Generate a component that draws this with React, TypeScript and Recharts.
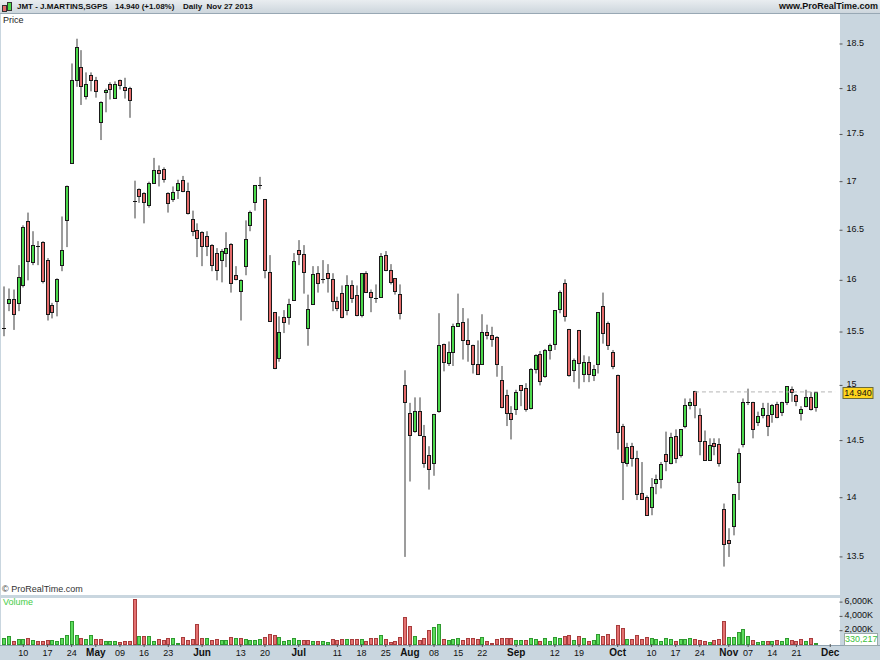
import React from 'react';
import { ComposedChart, BarChart, Bar, XAxis, YAxis, ReferenceLine } from 'recharts';

// ---------- DATA (daily candles, J.MARTINS,SGPS, Apr 4 - Nov 27 2013) ----------
const openP = [
  15.54, 15.78, 15.82, 15.78, 15.95, 16.59, 16.18, 16.34, 16.38, 16.20,
  15.76, 15.80, 16.15, 16.60, 17.20, 18.10, 18.24, 17.92, 18.15, 18.10,
  17.63, 17.96, 18.05, 17.90, 18.09, 18.02, 18.01, 16.80, 16.92, 16.88,
  16.76, 16.99, 17.12, 17.13, 16.88, 16.82, 16.91, 17.02, 16.90, 16.61,
  16.50, 16.48, 16.44, 16.35, 16.27, 16.20, 16.27, 16.36, 16.05, 15.90,
  16.14, 16.55, 16.79, 16.97, 16.82, 16.08, 15.69, 15.25, 15.64, 15.64,
  15.81, 16.30, 16.26, 15.54, 15.77, 16.07, 16.01, 16.07, 16.01, 15.80,
  15.88, 15.71, 15.95, 15.86, 15.66, 16.07, 15.89, 15.83, 15.84, 16.25,
  16.10, 16.02, 15.87, 15.00, 14.75, 14.59, 14.77, 14.54, 14.37, 14.30,
  14.77, 15.39, 15.21, 15.31, 15.56, 15.60, 15.42, 15.38, 15.20, 15.20,
  15.50, 15.47, 15.45, 15.05, 14.91, 14.75, 14.78, 15.00, 14.98, 14.79,
  15.15, 15.29, 15.09, 15.33, 15.39, 15.72, 15.97, 15.53, 15.14, 15.52,
  15.11, 15.22, 15.10, 15.20, 15.75, 15.59, 15.31, 15.10, 14.63, 14.30,
  14.45, 14.35, 14.04, 14.01, 13.92, 14.13, 14.16, 14.38, 14.30, 14.54,
  14.37, 14.63, 14.82, 14.95, 14.73, 14.50, 14.33, 14.48, 14.47, 13.90,
  13.64, 13.76, 14.14, 14.47, 14.85, 14.85, 14.67, 14.73, 14.73, 14.74,
  14.83, 14.76, 14.85, 14.97, 14.91, 14.75, 14.81, 14.89, 14.80,
];
const highP = [
  15.94, 15.92, 15.91, 16.15, 16.55, 16.68, 16.49, 16.39, 16.39, 16.22,
  15.78, 16.02, 16.64, 16.96, 18.28, 18.56, 18.43, 18.18, 18.18, 18.13,
  17.86, 18.00, 18.07, 18.08, 18.10, 18.12, 18.02, 17.01, 16.93, 16.89,
  17.00, 17.25, 17.17, 17.15, 16.89, 16.95, 17.02, 17.06, 16.99, 16.70,
  16.57, 16.49, 16.49, 16.36, 16.32, 16.31, 16.48, 16.37, 16.14, 16.01,
  16.60, 16.70, 16.96, 17.05, 16.82, 16.25, 15.69, 15.65, 15.71, 15.82,
  16.27, 16.40, 16.35, 15.86, 16.14, 16.14, 16.20, 16.16, 16.07, 15.84,
  15.95, 16.05, 16.00, 15.95, 16.07, 16.09, 15.91, 15.96, 16.27, 16.29,
  16.16, 16.02, 15.96, 15.14, 14.84, 14.89, 14.89, 14.64, 14.45, 14.74,
  15.68, 15.39, 15.41, 15.58, 15.87, 15.73, 15.63, 15.38, 15.42, 15.67,
  15.57, 15.55, 15.46, 15.18, 14.96, 14.81, 14.96, 15.00, 15.02, 15.16,
  15.29, 15.32, 15.34, 15.39, 15.71, 15.90, 16.01, 15.53, 15.25, 15.52,
  15.28, 15.27, 15.19, 15.69, 15.88, 15.60, 15.33, 15.10, 14.65, 14.48,
  14.48, 14.41, 14.31, 14.02, 14.17, 14.20, 14.31, 14.58, 14.57, 14.60,
  14.60, 14.88, 14.88, 14.95, 14.79, 14.59, 14.52, 14.52, 14.52, 13.95,
  13.74, 14.03, 14.43, 14.88, 14.97, 14.85, 14.76, 14.84, 14.84, 14.83,
  14.85, 14.85, 14.99, 14.99, 14.92, 14.81, 14.96, 14.94, 14.94,
];
const lowP = [
  15.46, 15.70, 15.52, 15.70, 15.93, 16.00, 16.15, 16.15, 15.97, 15.61,
  15.63, 15.65, 16.09, 16.33, 17.19, 18.02, 17.82, 17.88, 17.97, 17.90,
  17.44, 17.74, 17.88, 17.89, 17.99, 17.89, 17.68, 16.62, 16.78, 16.57,
  16.73, 16.98, 16.95, 16.99, 16.68, 16.79, 16.82, 16.89, 16.66, 16.44,
  16.23, 16.14, 16.24, 16.09, 16.00, 15.98, 16.13, 15.88, 16.00, 15.61,
  16.05, 16.49, 16.70, 16.92, 16.02, 15.60, 15.15, 15.22, 15.49, 15.57,
  15.80, 16.15, 15.87, 15.37, 15.76, 15.88, 15.97, 15.88, 15.70, 15.70,
  15.63, 15.66, 15.78, 15.65, 15.64, 15.88, 15.69, 15.78, 15.83, 16.09,
  15.96, 15.86, 15.62, 13.50, 14.14, 14.57, 14.54, 14.26, 14.07, 14.19,
  14.75, 15.13, 15.18, 15.18, 15.55, 15.24, 15.22, 15.11, 15.11, 15.19,
  15.43, 15.36, 15.08, 14.79, 14.63, 14.51, 14.73, 14.81, 14.76, 14.78,
  15.11, 15.00, 15.07, 15.24, 15.33, 15.68, 15.60, 15.08, 15.03, 14.97,
  15.03, 15.03, 15.04, 15.11, 15.39, 15.33, 15.15, 14.42, 13.98, 14.27,
  14.27, 13.98, 13.98, 13.85, 13.85, 14.03, 14.08, 14.23, 14.29, 14.30,
  14.35, 14.61, 14.78, 14.70, 14.37, 14.32, 14.32, 14.37, 14.27, 13.42,
  13.50, 13.68, 13.98, 14.44, 14.82, 14.52, 14.63, 14.70, 14.54, 14.66,
  14.70, 14.72, 14.82, 14.85, 14.81, 14.68, 14.80, 14.77, 14.76,
];
const closeP = [
  15.54, 15.82, 15.67, 16.03, 16.53, 16.19, 16.35, 16.34, 15.99, 15.67,
  15.69, 16.01, 16.30, 16.95, 18.10, 18.47, 18.03, 18.05, 18.09, 17.97,
  17.85, 17.99, 18.00, 18.05, 18.04, 17.98, 17.87, 16.80, 16.85, 16.79,
  16.99, 17.12, 17.09, 17.03, 16.78, 16.89, 16.99, 16.90, 16.68, 16.49,
  16.42, 16.34, 16.34, 16.15, 16.10, 16.29, 16.32, 15.97, 16.01, 16.00,
  16.41, 16.69, 16.96, 16.97, 16.10, 15.61, 15.16, 15.50, 15.60, 15.77,
  16.19, 16.26, 16.08, 15.72, 16.06, 15.97, 16.01, 16.02, 15.80, 15.73,
  15.64, 15.95, 15.83, 15.66, 16.07, 15.89, 15.84, 15.83, 16.24, 16.10,
  15.98, 15.90, 15.68, 14.85, 14.55, 14.77, 14.55, 14.30, 14.25, 14.74,
  15.38, 15.22, 15.31, 15.56, 15.59, 15.42, 15.39, 15.20, 15.11, 15.50,
  15.47, 15.43, 15.20, 14.80, 14.75, 14.69, 14.94, 14.96, 14.78, 15.15,
  15.28, 15.04, 15.33, 15.38, 15.71, 15.89, 15.65, 15.10, 15.24, 15.21,
  15.22, 15.11, 15.15, 15.69, 15.49, 15.38, 15.18, 14.58, 14.31, 14.44,
  14.35, 14.03, 13.99, 13.85, 14.09, 14.16, 14.29, 14.32, 14.53, 14.35,
  14.60, 14.82, 14.85, 14.82, 14.50, 14.33, 14.46, 14.45, 14.30, 13.61,
  13.62, 14.03, 14.39, 14.85, 14.85, 14.60, 14.72, 14.79, 14.63, 14.82,
  14.71, 14.85, 14.99, 14.94, 14.86, 14.78, 14.89, 14.78, 14.94,
];
// volume in thousands of shares
const volumeK = [
  930, 1300, 560, 885, 885, 1025, 745, 510, 560, 650,
  745, 560, 980, 1400, 3355, 1400, 1025, 840, 1400, 790,
  790, 560, 605, 560, 420, 510, 510, 6380, 1300, 1300,
  1300, 560, 790, 650, 930, 930, 230, 1070, 650, 840,
  2935, 1025, 930, 650, 790, 745, 745, 1120, 930, 1025,
  885, 700, 700, 790, 1120, 1490, 1350, 1120, 605, 745,
  1025, 700, 745, 745, 510, 510, 560, 370, 790, 650,
  790, 790, 790, 790, 790, 560, 930, 930, 1400, 790,
  370, 510, 1165, 3870, 2610, 1300, 700, 930, 2145, 2520,
  2935, 885, 650, 885, 1025, 745, 930, 930, 840, 1165,
  560, 325, 885, 930, 930, 930, 650, 745, 650, 1025,
  790, 560, 930, 560, 1165, 980, 1260, 1350, 650, 1260,
  1025, 560, 650, 1585, 1260, 1540, 790, 2800, 2425, 840,
  885, 1350, 885, 1165, 930, 885, 510, 930, 790, 560,
  840, 840, 980, 790, 650, 605, 465, 700, 790, 3355,
  1165, 1070, 1770, 2190, 1300, 650, 370, 510, 510, 560,
  745, 560, 980, 650, 510, 790, 560, 930, 330.217,
];
const xTickIdx = [4, 9, 14, 19, 24, 29, 34, 41, 49, 54, 61, 69, 74, 79, 84, 89, 94, 99, 106, 114, 119, 127, 134, 139, 144, 150, 154, 159, 164, 171];
const xTickLabels = ['10', '17', '24', 'May', '09', '16', '23', 'Jun', '13', '20', 'Jul', '11', '18', '25', 'Aug', '08', '15', '22', 'Sep', '12', '19', 'Oct', '10', '17', '24', 'Nov', '07', '14', '21', 'Dec'];
const priceTicks = [13.5, 14, 14.5, 15, 15.5, 16, 16.5, 17, 17.5, 18, 18.5];
const volTicks = [2000, 4000, 6000];
const lastPrice = 14.94;
const lastVolumeText = '330,217';
const lastLineStartIdx = 143;
const futureSlots = 4;

// ---------- LAYOUT ----------
const FONT = '"Liberation Sans", Arial, Helvetica, sans-serif';
const BG = '#c9d6df';
const PRICE_TOP = 13;
const PRICE_H = 583;
const PRICE_DOMAIN: [number, number] = [Math.log(13.1797), Math.log(18.8556)];
const VOL_DOMAIN: [number, number] = [0, 6573];
const AXIS_W = 42.5;
const LEFT = 1.584;
const VOL_SVG_TOP = 588;
const VOL_MARGIN_TOP = 10;

const N = closeP.length;
const rows = Array.from({ length: N + futureSlots }, (_, i) => {
  if (i >= N) return { i };
  return {
    i,
    o: openP[i],
    h: highP[i],
    l: lowP[i],
    c: closeP[i],
    range: [Math.log(lowP[i]), Math.log(highP[i])],
    v: volumeK[i],
    up: i === 0 ? closeP[i] >= openP[i] : closeP[i] >= closeP[i - 1],
  };
});

const GREEN = '#4cd94c';
const RED = '#e46a6a';

function CandleShape(props: any) {
  const { x, y, width, height, payload } = props;
  if (!payload || payload.o == null) return null;
  const top = Math.min(y, y + height);
  const hpx = Math.abs(height);
  const lh = Math.log(payload.h);
  const ll = Math.log(payload.l);
  const span = lh - ll || 1;
  const py = (p: number) => top + ((lh - Math.log(p)) / span) * hpx;
  const k = Math.round(x + width / 2);
  const bodyTop = Math.round(py(Math.max(payload.o, payload.c)));
  const bodyBot = Math.round(py(Math.min(payload.o, payload.c)));
  const isDoji = payload.o === payload.c;
  const fill = payload.c > payload.o ? GREEN : RED;
  return (
    <g>
      <line x1={k} x2={k} y1={top} y2={top + hpx} stroke="#3a3a3a" strokeWidth={1} />
      {isDoji ? (
        <line x1={k - 2} x2={k + 2} y1={bodyTop + 0.5} y2={bodyTop + 0.5} stroke="#111" strokeWidth={1} />
      ) : (
        <rect x={k - 1.5} y={bodyTop + 0.5} width={3} height={Math.max(1, bodyBot - bodyTop)} fill={fill} stroke="#1a1a1a" strokeWidth={1} />
      )}
    </g>
  );
}

function VolumeShape(props: any) {
  const { x, y, width, height, payload } = props;
  if (!payload || payload.v == null) return null;
  const k = Math.round(x + width / 2);
  const top = Math.round(Math.min(y, y + height));
  const bot = Math.round(Math.max(y, y + height));
  const up = payload.up;
  return (
    <rect
      x={k - 1.5}
      y={top + 0.5}
      width={3}
      height={Math.max(1, bot - top - 1)}
      fill={up ? '#5bdc5b' : '#e37070'}
      stroke={up ? '#2f9a2f' : '#a83c3c'}
      strokeWidth={1}
    />
  );
}

function XTick(props: any) {
  const { x, y, payload } = props;
  const k = xTickIdx.indexOf(payload.value);
  if (k < 0) return null;
  const label = xTickLabels[k];
  const bold = /^[A-Z]/.test(label);
  return (
    <g>
      <line x1={x} x2={x} y1={y - 1} y2={y + 2} stroke="#555" />
      <text x={x} y={y + 11} textAnchor="middle" fontSize={bold ? 10 : 9} fontWeight={bold ? 700 : 400} fill="#111" fontFamily={FONT}>
        {label}
      </text>
    </g>
  );
}

function PriceTick(props: any) {
  const { x, y, payload } = props;
  const label = String(Number(Math.exp(payload.value).toFixed(1)));
  return (
    <g>
      <line x1={x - 6} x2={x - 3} y1={y} y2={y} stroke="#555" />
      <text x={x + 1} y={y + 2} fontSize={9} fill="#111" fontFamily={FONT}>
        {label}
      </text>
    </g>
  );
}

function VolTick(props: any) {
  const { x, y, payload } = props;
  return (
    <g>
      <line x1={x - 6} x2={x - 3} y1={y} y2={y} stroke="#555" />
      <text x={x - 1} y={y + 1.5} fontSize={9} fill="#111" fontFamily={FONT}>
        {payload.value.toLocaleString('en-US') + 'K'}
      </text>
    </g>
  );
}

function LastPriceLabel(props: any) {
  const { viewBox } = props;
  if (!viewBox) return null;
  const yy = Math.round(viewBox.y);
  const x0 = viewBox.x + viewBox.width + 5;
  return (
    <g>
      <rect x={x0 + 0.5} y={yy - 4.5} width={30} height={11} fill="#ffd51c" stroke="#6b6b3a" />
      <text x={x0 + 15.5} y={yy + 4} textAnchor="middle" fontSize={9} fill="#111" fontFamily={FONT}>
        {lastPrice.toFixed(3)}
      </text>
    </g>
  );
}

const headText: React.CSSProperties = {
  position: 'absolute',
  top: 1,
  fontSize: 8,
  fontWeight: 700,
  color: '#111',
  whiteSpace: 'pre',
  lineHeight: '11px',
};

export default function App() {
  const lnLast = Math.log(lastPrice);
  return (
    <div style={{ position: 'absolute', left: 0, top: 0, width: 880, height: 660, background: BG, overflow: 'hidden', fontFamily: FONT }}>
      {/* header */}
      <div style={{ position: 'absolute', left: 0, top: 0, width: 880, height: 13, background: 'linear-gradient(#e9edf0, #cdd6dd)', borderBottom: '1px solid #98a8b4' }} />
      <div style={{ position: 'absolute', left: 2, top: 5, width: 3, height: 5, background: RED, border: '1px solid #333' }} />
      <div style={{ position: 'absolute', left: 7, top: 2, width: 3, height: 7, background: GREEN, border: '1px solid #333' }} />
      <div style={{ ...headText, left: 17 }}>JMT - J.MARTINS,SGPS</div>
      <div style={{ ...headText, left: 115 }}>14.940 (+1.08%)</div>
      <div style={{ ...headText, left: 183 }}>{'Daily  Nov 27 2013'}</div>
      <div style={{ ...headText, left: undefined, right: 2, fontSize: 9 }}>www.ProRealTime.com</div>

      {/* panels */}
      <div style={{ position: 'absolute', left: 1, top: 14, width: 839, height: 581, background: '#fff' }} />
      <div style={{ position: 'absolute', left: 1, top: 598, width: 839, height: 47, background: '#fff' }} />
      <div style={{ position: 'absolute', left: 0, top: 645, width: 880, height: 1, background: '#8fa2b0' }} />
      <div style={{ position: 'absolute', left: 3, top: 15, fontSize: 9, color: '#222', lineHeight: '11px' }}>Price</div>
      <div style={{ position: 'absolute', left: 2, top: 584, fontSize: 9, color: '#333', lineHeight: '11px' }}>© ProRealTime.com</div>
      <div style={{ position: 'absolute', left: 3, top: 597, fontSize: 9, color: '#45cc45', lineHeight: '11px' }}>Volume</div>

      {/* price chart */}
      <div style={{ position: 'absolute', left: 0, top: PRICE_TOP }}>
        <ComposedChart width={880} height={PRICE_H} data={rows} margin={{ top: 0, right: 0, bottom: 0, left: LEFT }} barCategoryGap="10%">
          <XAxis dataKey="i" type="category" hide />
          <YAxis
            orientation="right"
            type="number"
            domain={PRICE_DOMAIN}
            allowDataOverflow
            ticks={priceTicks.map((p) => Math.log(p))}
            tick={<PriceTick />}
            tickLine={false}
            axisLine={false}
            width={AXIS_W}
            interval={0}
          />
          <ReferenceLine
            segment={[{ x: lastLineStartIdx, y: lnLast }, { x: N + futureSlots - 1, y: lnLast }]}
            stroke="#b5b5b5"
            strokeDasharray="4 3"
            ifOverflow="extendDomain"
          />
          <ReferenceLine y={lnLast} stroke="none" label={<LastPriceLabel />} />
          <Bar dataKey="range" shape={<CandleShape />} isAnimationActive={false} />
        </ComposedChart>
      </div>

      {/* volume chart */}
      <div style={{ position: 'absolute', left: 0, top: VOL_SVG_TOP }}>
        <BarChart width={880} height={62 + VOL_MARGIN_TOP} data={rows} margin={{ top: VOL_MARGIN_TOP, right: 0, bottom: 0, left: LEFT }} barCategoryGap="10%">
          <XAxis
            dataKey="i"
            type="category"
            ticks={xTickIdx}
            interval={0}
            tick={<XTick />}
            tickLine={false}
            axisLine={false}
            height={15}
            tickSize={0}
            tickMargin={0}
          />
          <YAxis
            orientation="right"
            type="number"
            domain={VOL_DOMAIN}
            allowDataOverflow
            ticks={volTicks}
            tick={<VolTick />}
            tickLine={false}
            axisLine={false}
            width={AXIS_W}
            interval={0}
          />
          <Bar dataKey="v" shape={<VolumeShape />} isAnimationActive={false} />
        </BarChart>
      </div>

      {/* last volume box */}
      <div style={{ position: 'absolute', left: 844, top: 633, width: 32, height: 11, background: '#fff', border: '1px solid #9aa', fontSize: 9, color: '#3cbf3c', textAlign: 'center', lineHeight: '11px' }}>
        {lastVolumeText}
      </div>
    </div>
  );
}
